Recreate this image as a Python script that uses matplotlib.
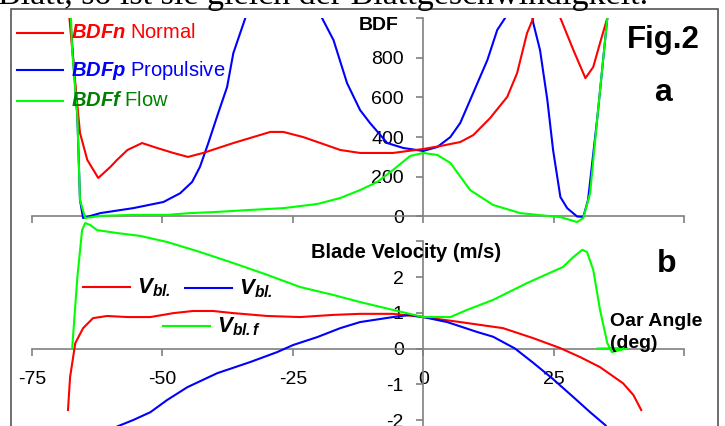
import matplotlib
matplotlib.use("Agg")
import matplotlib.pyplot as plt
from matplotlib.lines import Line2D
from matplotlib.patches import Rectangle

plt.rcParams['font.family'] = ['Liberation Sans', 'DejaVu Sans']
plt.rcParams['mathtext.fontset'] = 'custom'
plt.rcParams['mathtext.rm'] = 'Liberation Sans'
plt.rcParams['mathtext.it'] = 'Liberation Sans:italic'
plt.rcParams['mathtext.bf'] = 'Liberation Sans:bold:italic'
plt.rcParams['axes.unicode_minus'] = False

# ---------------- data (top panel: blade forces BDF) ----------------
bdfn_x = [-68.0, -66.7, -65.8, -64.4, -62.3, -60.0, -58.7, -56.7, -53.9, -51.0, -47.9, -45.1,
          -42.2, -36.4, -32.6, -29.3, -26.8, -23.0, -19.7, -15.9, -12.1, -5.8, 0.0, 3.3, 7.1,
          9.6, 12.8, 16.1, 18.0, 19.9, 21.1, 23.7, 26.3, 28.8, 31.1, 32.6, 33.9, 35.3, 35.7]
bdfn_y = [1050, 672, 421, 285, 194, 249, 285, 335, 370, 345, 320, 300,
          320, 370, 400, 426, 426, 400, 370, 335, 320, 320, 340, 355, 375,
          410, 495, 602, 722, 923, 1000, 1400, 1000, 838, 697, 753, 874, 1000, 1100]

bdfp_x = [-67.8, -66.3, -65.8, -65.2, -61.9, -55.6, -49.8, -46.6, -44.3, -42.8, -41.2, -39.3,
          -37.6, -36.4, -34.1, -27.0, -19.4, -17.2, -14.6, -12.1, -10.2, -6.9, -3.8, 0.0, 2.7,
          5.2, 7.1, 10.4, 12.3, 14.2, 15.7, 18.5, 21.1, 22.4, 23.8, 24.9, 26.3, 27.6, 29.5,
          30.7, 31.6, 33.4, 35.3, 35.7]
bdfp_y = [1050, 502, 83, -8, 17, 42, 73, 117, 174, 250, 370, 521,
          652, 823, 1000, 2000, 1000, 889, 672, 536, 471, 370, 345, 330, 350,
          400, 471, 672, 788, 940, 1000, 1400, 975, 838, 587, 335, 98, 42, 0,
          -2, 83, 502, 1000, 1100]

bdff_x = [-67.6, -67.3, -66.3, -65.8, -64.8, -61.9, -55.6, -49.1, -44.7, -39.5, -33.2, -26.8,
          -20.3, -15.9, -12.1, -8.8, -5.8, -2.5, 0.0, 2.7, 5.2, 9.0, 13.4, 18.6, 23.8, 26.3,
          29.5, 30.7, 32.0, 33.4, 35.3, 35.7]
bdff_y = [1050, 838, 502, 83, -8, 3, 8, 8, 17, 23, 33, 42,
          63, 93, 133, 174, 234, 305, 320, 310, 270, 133, 58, 17, 3, -3,
          -28, -8, 117, 502, 1000, 1100]

# ---------------- data (bottom panel: blade velocity) ----------------
vbln_x = [-68.1, -67.7, -66.7, -65.2, -63.3, -60.6, -56.7, -52.3, -47.9, -44.1, -40.3, -36.4,
          -29.9, -23.6, -17.3, -12.1, -5.8, 0.0, 7.1, 15.3, 21.1, 26.3, 30.1, 33.9, 38.3,
          40.3, 41.8]
vbln_y = [-1.72, -0.80, 0.15, 0.57, 0.85, 0.91, 0.88, 0.88, 0.99, 1.05, 1.05, 0.99,
          0.91, 0.88, 0.94, 0.97, 0.97, 0.88, 0.74, 0.57, 0.29, 0.01, -0.24, -0.52, -0.97,
          -1.30, -1.72]

vblp_x = [-62.0, -58.5, -55.6, -52.3, -49.1, -45.2, -39.5, -33.2, -28.0, -24.9, -20.3, -15.9,
          -12.1, -5.8, -2.5, 0.0, 4.6, 10.4, 13.4, 17.6, 21.1, 24.7, 28.8, 32.0, 34.9, 36.0]
vblp_y = [-2.40, -2.17, -2.00, -1.78, -1.44, -1.08, -0.69, -0.38, -0.10, 0.10, 0.32, 0.57,
          0.74, 0.88, 0.94, 0.88, 0.74, 0.46, 0.33, 0.0, -0.40, -0.83, -1.36, -1.78, -2.14, -2.35]

vblf_x = [-67.3, -66.3, -65.4, -64.8, -63.8, -62.5, -58.7, -54.3, -49.1, -42.8, -36.4, -29.9,
          -23.6, -17.3, -12.1, -5.8, 0.0, 5.2, 8.4, 13.4, 19.9, 26.8, 28.8, 30.5, 31.4, 32.6,
          33.9, 35.3, 36.2, 37.8, 39.1, 33.4]
vblf_y = [0.0, 2.0, 3.31, 3.51, 3.45, 3.31, 3.23, 3.15, 2.98, 2.70, 2.39, 2.06,
          1.72, 1.50, 1.30, 1.08, 0.88, 0.88, 1.08, 1.36, 1.83, 2.28, 2.56, 2.76, 2.70, 2.20,
          1.08, 0.15, -0.10, -0.04, 0.01, 0.0]

x_ticks = [-75, -50, -25, 0, 25, 50]
x_ticklabels = ['-75', '-50', '-25', '0', '25', '']
bdf_ticks = [0, 200, 400, 600, 800, 1000]
bdf_ticklabels = ['0', '200', '400', '600', '800', '']
vel_ticks = [-2, -1, 0, 1, 2, 3]
vel_ticklabels = ['-2', '-1', '0', '1', '2', '']

top_legend = [r'$\mathbf{BDFn}$ Normal', r'$\mathbf{BDFp}$ Propulsive', r'$\mathbf{BDFf}$ Flow']
bot_legend = [r'$\mathbf{V_{bl.}}$', r'$\mathbf{V_{bl.}}$', r'$\mathbf{V_{bl.f}}$']

# ---------------- figure ----------------
W, H = 725, 426
fig = plt.figure(figsize=(W / 100, H / 100), dpi=100)


def fx(px):
    return px / W


def fy(py):
    return 1 - py / H


RED, BLUE, GREEN = '#ff0000', '#0000ff', '#00ff00'
AXC = '#808080'
LW = 1.5

# outer frame of the figure in the document
fig.add_artist(Rectangle((fx(11), -0.05), fx(718) - fx(11), fy(9) + 0.05,
                         transform=fig.transFigure, fill=False, ec='#555555', lw=1.2))
# cut-off document text above the figure
fig.text(fx(-2), fy(4), 'Blatt, so ist sie gleich der Blattgeschwindigkeit.',
         family=['Liberation Serif', 'DejaVu Serif'], fontsize=24.5, va='baseline', ha='left')

X0, X1 = 32, 684
# top axes: y -50..1000 -> pixel 226.4..18
top_px0, top_px1 = 226.4, 18.0
ax1 = fig.add_axes([fx(X0), fy(top_px0), (X1 - X0) / W, (top_px0 - top_px1) / H])
ax1.set_facecolor('none')
ax1.set_xlim(-75, 50)
ax1.set_ylim(-50, 1000)
ax1.plot(bdfp_x, bdfp_y, color=BLUE, lw=LW, zorder=3)
ax1.plot(bdfn_x, bdfn_y, color=RED, lw=LW, zorder=3)
ax1.plot(bdff_x, bdff_y, color=GREEN, lw=LW, zorder=4)

# bottom axes: y -2.2..3.65 -> pixel 427.2..218
bot_px0, bot_px1 = 427.2, 218.0
ax2 = fig.add_axes([fx(X0), fy(bot_px0), (X1 - X0) / W, (bot_px0 - bot_px1) / H])
ax2.set_facecolor('none')
ax2.set_xlim(-75, 50)
ax2.set_ylim(-2.2, 3.65)
ax2.plot(vbln_x, vbln_y, color=RED, lw=LW, zorder=3)
ax2.plot(vblp_x, vblp_y, color=BLUE, lw=LW, zorder=3)
ax2.plot(vblf_x, vblf_y, color=GREEN, lw=LW, zorder=4)

for ax in (ax1, ax2):
    for s in ('top', 'right'):
        ax.spines[s].set_visible(False)
    ax.spines['bottom'].set_position(('data', 0))
    ax.spines['left'].set_position(('data', 0))
    for s in ('bottom', 'left'):
        ax.spines[s].set_color(AXC)
        ax.spines[s].set_linewidth(1.2)
    ax.spines['bottom'].set_bounds(-75, 50)
    ax.set_xticks(x_ticks)
    ax.tick_params(axis='both', direction='out', length=5, width=1.2, color=AXC,
                   labelsize=14, labelcolor='black')

ax1.spines['left'].set_bounds(0, 1000)
ax1.set_yticks(bdf_ticks)
ax1.set_yticklabels(bdf_ticklabels)
ax1.tick_params(axis='x', labelbottom=False)
ax1.tick_params(axis='y', pad=9)

ax2.spines['left'].set_bounds(-2.3, 3)
ax2.set_yticks(vel_ticks)
ax2.set_yticklabels(vel_ticklabels)
ax2.set_xticklabels(x_ticklabels)
ax2.tick_params(axis='y', pad=9)
ax2.tick_params(axis='x', pad=11)

# axis titles and annotations
fig.text(fx(379), fy(26), 'BDF', fontsize=14, fontweight='bold', ha='center', va='center')
fig.text(fx(406), fy(252), 'Blade Velocity (m/s)', fontsize=14.5, fontweight='bold',
         ha='center', va='center', zorder=1)
fig.text(fx(610), fy(322), 'Oar Angle', fontsize=14, fontweight='bold', ha='left', va='center')
fig.text(fx(610), fy(344), '(deg)', fontsize=14, fontweight='bold', ha='left', va='center')
fig.text(fx(663), fy(40), 'Fig.2', fontsize=22.5, fontweight='bold', ha='center', va='center')
fig.text(fx(663), fy(93), 'a', fontsize=23, fontweight='bold', ha='center', va='center')
fig.text(fx(667), fy(264), 'b', fontsize=23, fontweight='bold', ha='center', va='center')

# top legend
top_leg_y = [33, 70, 101]
top_cols = [RED, BLUE, GREEN]
top_txt_cols = [RED, BLUE, '#008000']
for lab, yy, c, tc in zip(top_legend, top_leg_y, top_cols, top_txt_cols):
    fig.add_artist(Line2D([fx(17), fx(63)], [fy(yy), fy(yy)], transform=fig.transFigure,
                          color=c, lw=LW))
    fig.text(fx(71), fy(yy), lab, color=tc, fontsize=14.5, ha='left', va='center')

# bottom legend
bot_leg = [(83, 130, 287, 137), (185, 232, 288, 239), (163, 210, 326, 217)]
bot_cols = [RED, BLUE, GREEN]
for lab, (l0, l1, yy, tx), c in zip(bot_legend, bot_leg, bot_cols):
    fig.add_artist(Line2D([fx(l0), fx(l1)], [fy(yy), fy(yy)], transform=fig.transFigure,
                          color=c, lw=LW))
    fig.text(fx(tx), fy(yy + 1), lab, color='black', fontsize=16, ha='left', va='center')

fig.savefig('out.png', dpi=100)
